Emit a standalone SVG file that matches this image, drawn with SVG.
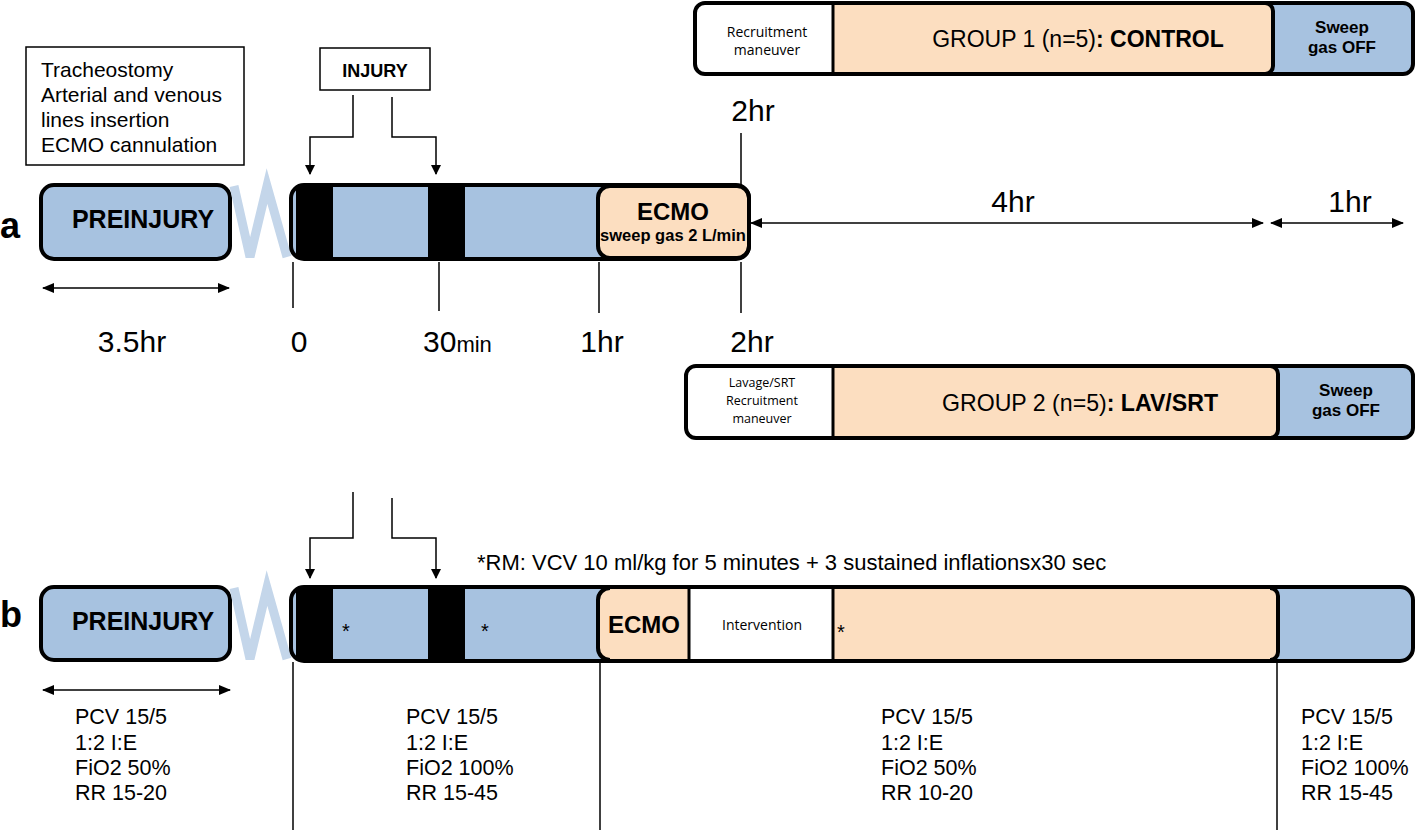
<svg xmlns="http://www.w3.org/2000/svg" width="1416" height="833" viewBox="0 0 1416 833">
<defs>
<marker id="ah" viewBox="0 0 10 10" refX="9" refY="5" markerWidth="10" markerHeight="10" markerUnits="userSpaceOnUse" orient="auto-start-reverse"><path d="M0,0 L10,5 L0,10 z" fill="#000"/></marker>
<marker id="ah2" viewBox="0 0 12 10" refX="11" refY="5" markerWidth="12" markerHeight="10" markerUnits="userSpaceOnUse" orient="auto-start-reverse"><path d="M0,0 L12,5 L0,10 z" fill="#000"/></marker>
</defs>
<style>
text{font-family:"Liberation Sans",Arial,sans-serif;fill:#000}
.blue{fill:#a7c2e0}
.peach{fill:#fcdec0}
.ol{fill:none;stroke:#000;stroke-width:4}
.thin{stroke:#000;stroke-width:1.5;fill:none}
.zig{fill:none;stroke:#c4d6ea;stroke-width:9}
.lbl{font-size:30px}
.prm{font-size:21.5px}
.bold{font-weight:bold}
.small{font-family:"Open Sans","Liberation Sans",sans-serif;font-size:14px}
.tiny{font-family:"Open Sans","Liberation Sans",sans-serif;font-size:12.5px}
</style>
<rect width="1416" height="833" fill="#fff"/>

<g id="prep-box">
<rect x="26" y="47" width="218" height="118" fill="#fff" stroke="#000" stroke-width="1.5"/>
<text x="41" y="77" font-size="21">Tracheostomy</text>
<text x="41" y="102" font-size="21">Arterial and venous</text>
<text x="41" y="127" font-size="21">lines insertion</text>
<text x="41" y="152" font-size="21">ECMO cannulation</text>
</g>

<g id="injury-box">
<rect x="320" y="48" width="110" height="42" fill="#fff" stroke="#000" stroke-width="1.5"/>
<text x="375" y="77" font-size="18" class="bold" text-anchor="middle">INJURY</text>
</g>

<text x="0" y="238" font-size="36" class="bold">a</text>
<text x="0" y="627" font-size="36" class="bold">b</text>

<g id="preinjury-a">
<rect x="41" y="185" width="189" height="74" rx="13" class="blue" stroke="#000" stroke-width="4"/>
<text x="143" y="228" font-size="25" class="bold" text-anchor="middle">PREINJURY</text>
</g>
<polyline id="zig-a" class="zig" points="234,186 250,257 267,186 287,257"/>

<g id="bar-a">
<rect x="291" y="185" width="458" height="74" rx="13" class="blue"/>
<rect x="296" y="186" width="37" height="72" fill="#000"/>
<rect x="428" y="186" width="37" height="72" fill="#000"/>
<rect x="598" y="186" width="151" height="72" rx="12" class="peach" stroke="#000" stroke-width="4"/>
<rect x="291" y="185" width="458" height="74" rx="13" class="ol"/>
<text x="673" y="220" font-size="24" class="bold" text-anchor="middle">ECMO</text>
<text x="673" y="241" font-size="16.5" class="bold" text-anchor="middle">sweep gas 2 L/min</text>
</g>

<g id="group1">
<rect x="695" y="3" width="718" height="71" rx="10" fill="#fff"/>
<path d="M833,3 H1265 A8,8 0 0 1 1273,11 V66 A8,8 0 0 1 1265,74 H833 Z" class="peach"/>
<path d="M1273,3 H1403 A10,10 0 0 1 1413,13 V64 A10,10 0 0 1 1403,74 H1273 Z" class="blue"/>
<path d="M1265,3 A8,8 0 0 1 1273,11 V66 A8,8 0 0 1 1265,74" class="ol" stroke-width="3"/>
<line x1="833" y1="3" x2="833" y2="74" stroke="#000" stroke-width="3"/>
<rect x="695" y="3" width="718" height="71" rx="10" class="ol"/>
<text x="767" y="37" class="small" text-anchor="middle">Recruitment</text>
<text x="767" y="55" class="small" text-anchor="middle">maneuver</text>
<text x="1078" y="47" font-size="23" text-anchor="middle">GROUP 1 (n=5)<tspan class="bold">: CONTROL</tspan></text>
<text x="1342" y="33" font-size="17" class="bold" text-anchor="middle">Sweep</text>
<text x="1342" y="53" font-size="17" class="bold" text-anchor="middle">gas OFF</text>
</g>

<g id="group2">
<rect x="686" y="366" width="727" height="72" rx="10" fill="#fff"/>
<path d="M833,366 H1270 A8,8 0 0 1 1278,374 V430 A8,8 0 0 1 1270,438 H833 Z" class="peach"/>
<path d="M1278,366 H1403 A10,10 0 0 1 1413,376 V428 A10,10 0 0 1 1403,438 H1278 Z" class="blue"/>
<path d="M1270,366 A8,8 0 0 1 1278,374 V430 A8,8 0 0 1 1270,438" class="ol" stroke-width="3"/>
<line x1="833" y1="366" x2="833" y2="438" stroke="#000" stroke-width="3"/>
<rect x="686" y="366" width="727" height="72" rx="10" class="ol"/>
<text x="762" y="387" class="tiny" text-anchor="middle">Lavage/SRT</text>
<text x="762" y="405" class="tiny" text-anchor="middle">Recruitment</text>
<text x="762" y="423" class="tiny" text-anchor="middle">maneuver</text>
<text x="1080" y="411" font-size="24" text-anchor="middle" textLength="276" lengthAdjust="spacingAndGlyphs">GROUP 2 (n=5)<tspan class="bold">: LAV/SRT</tspan></text>
<text x="1346" y="396" font-size="17" class="bold" text-anchor="middle">Sweep</text>
<text x="1346" y="416" font-size="17" class="bold" text-anchor="middle">gas OFF</text>
</g>

<g id="preinjury-b">
<rect x="41" y="587" width="189" height="73" rx="13" class="blue" stroke="#000" stroke-width="4"/>
<text x="143" y="630" font-size="25" class="bold" text-anchor="middle">PREINJURY</text>
</g>
<polyline id="zig-b" class="zig" points="234,588 250,659 267,588 287,659"/>

<g id="bar-b">
<rect x="291" y="587" width="1122" height="74" rx="13" class="blue"/>
<rect x="296" y="588" width="37" height="72" fill="#000"/>
<rect x="428" y="588" width="37" height="72" fill="#000"/>
<path d="M610,588 H1270 A8,8 0 0 1 1278,596 V652 A8,8 0 0 1 1270,660 H610 A12,12 0 0 1 598,648 V600 A12,12 0 0 1 610,588 Z" class="peach"/>
<rect x="690" y="588" width="142" height="72" fill="#fff"/>
<path d="M610,588 A12,12 0 0 0 598,600 V648 A12,12 0 0 0 610,660" class="ol" stroke-width="3"/>
<path d="M1270,588 A8,8 0 0 1 1278,596 V652 A8,8 0 0 1 1270,660" class="ol" stroke-width="3"/>
<line x1="689" y1="588" x2="689" y2="660" stroke="#000" stroke-width="3"/>
<line x1="833" y1="588" x2="833" y2="660" stroke="#000" stroke-width="3"/>
<rect x="291" y="587" width="1122" height="74" rx="13" class="ol"/>
<text x="644" y="633" font-size="24" class="bold" text-anchor="middle">ECMO</text>
<text x="762" y="630" class="small" font-size="15.5" text-anchor="middle">Intervention</text>
<text x="342" y="638" font-size="20">*</text>
<text x="481" y="638" font-size="20">*</text>
<text x="837" y="639" font-size="20">*</text>
</g>

<g id="connectors">
<polyline class="thin" points="353,95 353,137 310,137 310,174" marker-end="url(#ah)"/>
<polyline class="thin" points="392,97 392,137 436,137 436,174" marker-end="url(#ah)"/>
<polyline class="thin" points="353,492 353,538 310,538 310,578" marker-end="url(#ah)"/>
<polyline class="thin" points="392,498 392,538 436,538 436,578" marker-end="url(#ah)"/>
<line class="thin" x1="43" y1="288" x2="229" y2="288" marker-start="url(#ah2)" marker-end="url(#ah2)"/>
<line class="thin" x1="43" y1="690" x2="230" y2="690" marker-start="url(#ah2)" marker-end="url(#ah2)"/>
<line class="thin" x1="751" y1="223" x2="1263" y2="223" marker-start="url(#ah2)" marker-end="url(#ah2)"/>
<line class="thin" x1="1271" y1="223" x2="1403" y2="223" marker-start="url(#ah2)" marker-end="url(#ah2)"/>
<line class="thin" x1="741" y1="133" x2="741" y2="185"/>
<line class="thin" x1="293" y1="262" x2="293" y2="308"/>
<line class="thin" x1="439" y1="262" x2="439" y2="311"/>
<line class="thin" x1="599" y1="262" x2="599" y2="313"/>
<line class="thin" x1="741" y1="262" x2="741" y2="313"/>
<line class="thin" x1="293" y1="662" x2="293" y2="830"/>
<line class="thin" x1="600" y1="662" x2="600" y2="830"/>
<line class="thin" x1="1277" y1="662" x2="1277" y2="830"/>
</g>

<g id="time-labels">
<text x="753" y="121" text-anchor="middle" class="lbl">2hr</text>
<text x="1013" y="212" text-anchor="middle" class="lbl">4hr</text>
<text x="1350" y="212" text-anchor="middle" class="lbl">1hr</text>
<text x="132" y="352" text-anchor="middle" class="lbl">3.5hr</text>
<text x="299" y="352" text-anchor="middle" class="lbl">0</text>
<text x="423" y="352" class="lbl">30<tspan font-size="22">min</tspan></text>
<text x="602" y="352" text-anchor="middle" class="lbl">1hr</text>
<text x="752" y="352" text-anchor="middle" class="lbl">2hr</text>
</g>

<text x="477" y="570" font-size="22">*RM: VCV 10 ml/kg for 5 minutes + 3 sustained inflationsx30 sec</text>

<g id="params1">
<text x="75" y="724" class="prm">PCV 15/5</text>
<text x="75" y="750" class="prm">1:2 I:E</text>
<text x="75" y="775" class="prm">FiO2 50%</text>
<text x="75" y="800" class="prm">RR 15-20</text>
</g>
<g id="params2">
<text x="406" y="724" class="prm">PCV 15/5</text>
<text x="406" y="750" class="prm">1:2 I:E</text>
<text x="406" y="775" class="prm">FiO2 100%</text>
<text x="406" y="800" class="prm">RR 15-45</text>
</g>
<g id="params3">
<text x="881" y="724" class="prm">PCV 15/5</text>
<text x="881" y="750" class="prm">1:2 I:E</text>
<text x="881" y="775" class="prm">FiO2 50%</text>
<text x="881" y="800" class="prm">RR 10-20</text>
</g>
<g id="params4">
<text x="1301" y="724" class="prm">PCV 15/5</text>
<text x="1301" y="750" class="prm">1:2 I:E</text>
<text x="1301" y="775" class="prm">FiO2 100%</text>
<text x="1301" y="800" class="prm">RR 15-45</text>
</g>
</svg>
